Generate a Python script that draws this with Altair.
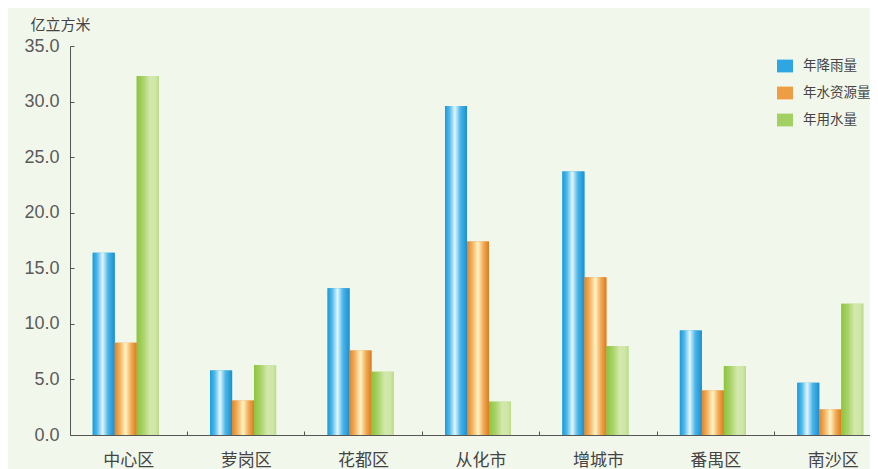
import altair as alt
import pandas as pd

districts = ["中心区", "萝岗区", "花都区", "从化市", "增城市", "番禺区", "南沙区"]
series = ["年降雨量", "年水资源量", "年用水量"]
rainfall = [16.4, 5.8, 13.2, 29.6, 23.7, 9.4, 4.7]
water_resources = [8.3, 3.1, 7.6, 17.4, 14.2, 4.0, 2.3]
water_use = [32.3, 6.3, 5.7, 3.0, 8.0, 6.2, 11.8]
y_ticks = [0, 5, 10, 15, 20, 25, 30, 35]

rows = []
for i, d in enumerate(districts):
    for s, vals in zip(series, [rainfall, water_resources, water_use]):
        rows.append({"区域": d, "指标": s, "值": vals[i]})
df = pd.DataFrame(rows)

FONT = "Noto Sans CJK SC"
solid = ["#2ea6e3", "#ee9d45", "#a4d062"]
gradients = {
    "年降雨量": [(0, "#1b9ad9"), (0.2, "#4cb8ea"), (0.45, "#e2f6fd"), (0.7, "#49b5e8"), (1, "#1a8fd3")],
    "年水资源量": [(0, "#e38323"), (0.25, "#f2b463"), (0.5, "#fff3c4"), (0.75, "#f0aa55"), (1, "#de7a1e")],
    "年用水量": [(0, "#8cc43d"), (0.3, "#a9d368"), (0.6, "#d3e8ad"), (0.85, "#cfe6a6"), (1, "#bcdc8a")],
}

x_scale = alt.Scale(domain=districts, range=[0, 822], paddingInner=0, paddingOuter=0)
off_scale = alt.Scale(domain=series, range=[22.7, 88.7], paddingInner=0, paddingOuter=0)
y_scale = alt.Scale(domain=[0, 35], nice=False, zero=True)

base = alt.Chart(df).mark_bar().encode(
    x=alt.X("区域:N", scale=x_scale, axis=alt.Axis(
        title=None, labelFont=FONT, labelFontSize=17, labelColor="#444",
        labelPadding=17, ticks=False, domainColor="#555", labelAngle=0, grid=False)),
    xOffset=alt.XOffset("指标:N", scale=off_scale),
    y=alt.Y("值:Q", scale=y_scale, axis=alt.Axis(
        values=y_ticks, format=".1f", labelFont="Liberation Sans", labelFontSize=18,
        labelColor="#5a5a5a", labelPadding=11, ticks=False, domainColor="#555", grid=False,
        title="亿立方米", titleAngle=0, titleAlign="left", titleBaseline="middle",
        titleX=-40, titleY=-22, titleFont=FONT, titleFontSize=15,
        titleFontWeight="normal", titleColor="#444")),
    color=alt.Color("指标:N", scale=alt.Scale(domain=series, range=solid), legend=alt.Legend(
        title=None, orient="none", legendX=707, legendY=12, direction="vertical",
        symbolType="M-1,-0.8H1V0.8H-1Z", symbolSize=256, symbolStrokeWidth=0,
        symbolOpacity=1, labelFont=FONT, labelFontSize=13.5, labelColor="#444",
        labelOffset=10, rowPadding=12)),
)


def grad(stops):
    return alt.Gradient(gradient="linear", x1=0, x2=1, y1=0, y2=0,
                        stops=[alt.GradientStop(offset=o, color=c) for o, c in stops])


layers = [base]
for s in series:
    layers.append(
        alt.Chart(df).transform_filter(alt.datum["指标"] == s).mark_bar(color=grad(gradients[s])).encode(
            x=alt.X("区域:N", scale=x_scale, axis=None),
            xOffset=alt.XOffset("指标:N", scale=off_scale),
            y=alt.Y("值:Q", scale=y_scale, axis=None),
        )
    )

ticks = alt.Chart(df).mark_bar(opacity=0).encode(
    x=alt.X("区域:N", scale=x_scale, axis=alt.Axis(
        orient="bottom", offset=-4, tickSize=4, labels=False, domain=False, title=None,
        bandPosition=0, tickColor="#555", grid=False)),
    xOffset=alt.XOffset("指标:N", scale=off_scale),
    y=alt.Y("值:Q", scale=y_scale, axis=alt.Axis(
        orient="left", offset=-4, tickSize=4, labels=False, domain=False, title=None,
        values=y_ticks, tickColor="#555", grid=False)),
)
layers.append(ticks)

chart = alt.layer(*layers).resolve_axis(x="independent", y="independent").properties(
    width=800, height=389,
    autosize=alt.AutoSizeParams(type="none"),
    padding={"left": 62, "top": 38, "right": 0, "bottom": 34},
    background="#f2f7ec",
).configure_view(stroke=None)

chart.save("out.html", embed_options={"renderer": "svg", "actions": False})
